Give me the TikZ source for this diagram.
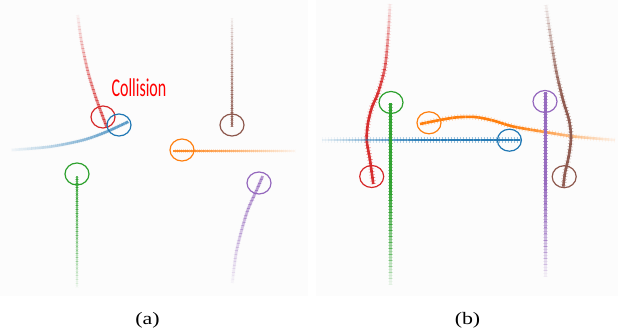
\documentclass[tikz,border=0pt]{standalone}
\usepackage{fontspec}
\setmainfont{Liberation Serif}
\newfontfamily\carlito{Carlito}
\usetikzlibrary{shapes.geometric}
\definecolor{tblue}{HTML}{1F77B4}
\definecolor{torange}{HTML}{FF7F0E}
\definecolor{tgreen}{HTML}{2CA02C}
\definecolor{tred}{HTML}{D62728}
\definecolor{tpurple}{HTML}{9467BD}
\definecolor{tbrown}{HTML}{8C564B}
\tikzset{
  trajcore/.style={draw=#1},
  agent/.style={draw=#1, line width=1.2pt, ellipse, minimum width=24pt, minimum height=22pt, inner sep=0pt},
  panelbg/.style={fill=black!1.2, draw=none},
  caption/.style={font=\fontsize{17.5}{19}\selectfont, anchor=base},
  colltext/.style={text=red, font=\carlito\fontsize{16}{18}\selectfont, inner sep=0pt},
  ticksa/.style={dash pattern=on 0.5pt off 1.5pt},
  ticksb/.style={dash pattern=on 0.6pt off 2.4pt}
}
% #1 axis (x or y), #2 colour, #3 max opacity, #4 ramp, #5 faint end, #6 opaque end,
% #7 core width, #8 tick width, #9 tick opacity factor ; path given by \trajp
\newcommand\trajband[9]{%
  \foreach \k in {0,...,29}{%
    \pgfmathsetmacro\ta{ifthenelse(\k==0,-0.08,\k/30)}%
    \pgfmathsetmacro\tb{ifthenelse(\k==29,1.08,(\k+1)/30)}%
    \pgfmathsetmacro\sa{#5+(#6-#5)*\ta}%
    \pgfmathsetmacro\sb{#5+(#6-#5)*\tb}%
    \pgfmathsetmacro\op{#3*min(1,0.06+#4*(\k+0.5)/30)}%
    \pgfmathsetmacro\opt{#9*\op}%
    \begin{scope}
      \ifx y#1\clip (-10,\sa) rectangle (630,\sb);\else\clip (\sa,-10) rectangle (\sb,340);\fi
      \draw[trajcore=#2, line width=#7, draw opacity=\op] \trajp;
      \draw[trajcore=#2, tickstyle, line width=#8, draw opacity=\opt] \trajp;
    \end{scope}}}
\begin{document}
\begin{tikzpicture}[x=1pt,y=-1pt]
\useasboundingbox (0,0) rectangle (618,334);
\fill[white] (0,0) rectangle (618,334);
\path[panelbg] (0,0) rectangle (308,296);
\path[panelbg] (316,0) rectangle (618,296);

% ---------- panel (a) ----------
\tikzset{tickstyle/.style={ticksa}}
\def\trajp{plot[smooth] coordinates {(77.7,15) (81.7,43) (88.3,73) (96.7,100) (106.7,127)}}
\trajband{y}{tred}{0.65}{1}{15}{127}{2.6pt}{4.2pt}{0.3}
\def\trajp{plot[smooth] coordinates {(11.7,150) (50,146.7) (83.3,140) (106.7,131.7) (128.3,121.7)}}
\trajband{x}{tblue}{0.7}{1}{11.7}{128.3}{2.6pt}{4.2pt}{0.3}
\def\trajp{(232,18) -- (232,127)}
\trajband{y}{tbrown}{0.75}{1}{18}{127}{2.6pt}{4.2pt}{0.3}
\def\trajp{(295,151) -- (173,151)}
\trajband{x}{torange}{0.85}{1.1}{295}{173}{2.6pt}{4.2pt}{0.3}
\def\trajp{(77,287) -- (77,176)}
\trajband{y}{tgreen}{0.75}{1}{287}{176}{2.6pt}{4.2pt}{0.3}
\def\trajp{plot[smooth] coordinates {(232.3,283) (236.7,250) (246.7,213) (256.7,190) (262.7,176)}}
\trajband{y}{tpurple}{0.65}{1}{283}{176}{2.6pt}{4.2pt}{0.3}

\node[agent=tred] (ra) at (103,117) {};
\node[agent=tblue] (ba) at (119,125) {};
\node[agent=tbrown] (bra) at (232,125) {};
\node[agent=torange] (oa) at (182,150) {};
\node[agent=tgreen] (ga) at (77,174) {};
\node[agent=tpurple] (pa) at (259,183) {};

\node[colltext] (coll) at (139,88) {\scalebox{1}[1.6]{Collision}};

% ---------- panel (b) ----------
\tikzset{tickstyle/.style={ticksb}}
\def\trajp{plot[smooth] coordinates {(390,4) (388.3,33) (385,67) (378,93) (372,107) (368,123) (366.7,140) (370,160) (373.3,184)}}
\trajband{y}{tred}{0.95}{1.8}{4}{184}{2.6pt}{5.5pt}{0.45}
\def\trajp{(321.7,140) -- (520,140)}
\trajband{x}{tblue}{0.95}{1.8}{321.7}{520}{2.6pt}{5.5pt}{0.45}
\def\trajp{plot[smooth] coordinates {(615,140) (590,138) (570,136) (543,131.7) (513,126.5) (493,120.5) (475,117) (457,117.3) (440,120) (420,124)}}
\trajband{x}{torange}{1}{1.8}{615}{420}{2.6pt}{5.5pt}{0.45}
\def\trajp{(390.7,285) -- (390.7,103)}
\trajband{y}{tgreen}{0.95}{1.8}{285}{103}{2.6pt}{5.5pt}{0.45}
\def\trajp{(545.3,277) -- (545.3,92)}
\trajband{y}{tpurple}{0.95}{1.8}{277}{92}{2.6pt}{5.5pt}{0.45}
\def\trajp{plot[smooth] coordinates {(546,5) (550,33) (556,70) (563,100) (569,120) (571,137) (569,155) (565,173) (563.3,186.7)}}
\trajband{y}{tbrown}{0.95}{1.8}{5}{186.7}{2.6pt}{5.5pt}{0.45}

\node[agent=tred] (rb) at (371.7,176.5) {};
\node[agent=tgreen] (gb) at (391,102.5) {};
\node[agent=torange] (ob) at (429,122.8) {};
\node[agent=tblue] (bb) at (509.4,140.2) {};
\node[agent=tpurple] (pb) at (545,101.5) {};
\node[agent=tbrown] (brb) at (564.2,176.7) {};

% ---------- captions ----------
\node[caption] (capa) at (147.5,324.5) {\scalebox{1.25}[1]{(a)}};
\node[caption] (capb) at (467.5,324.5) {\scalebox{1.25}[1]{(b)}};
\end{tikzpicture}
\end{document}
